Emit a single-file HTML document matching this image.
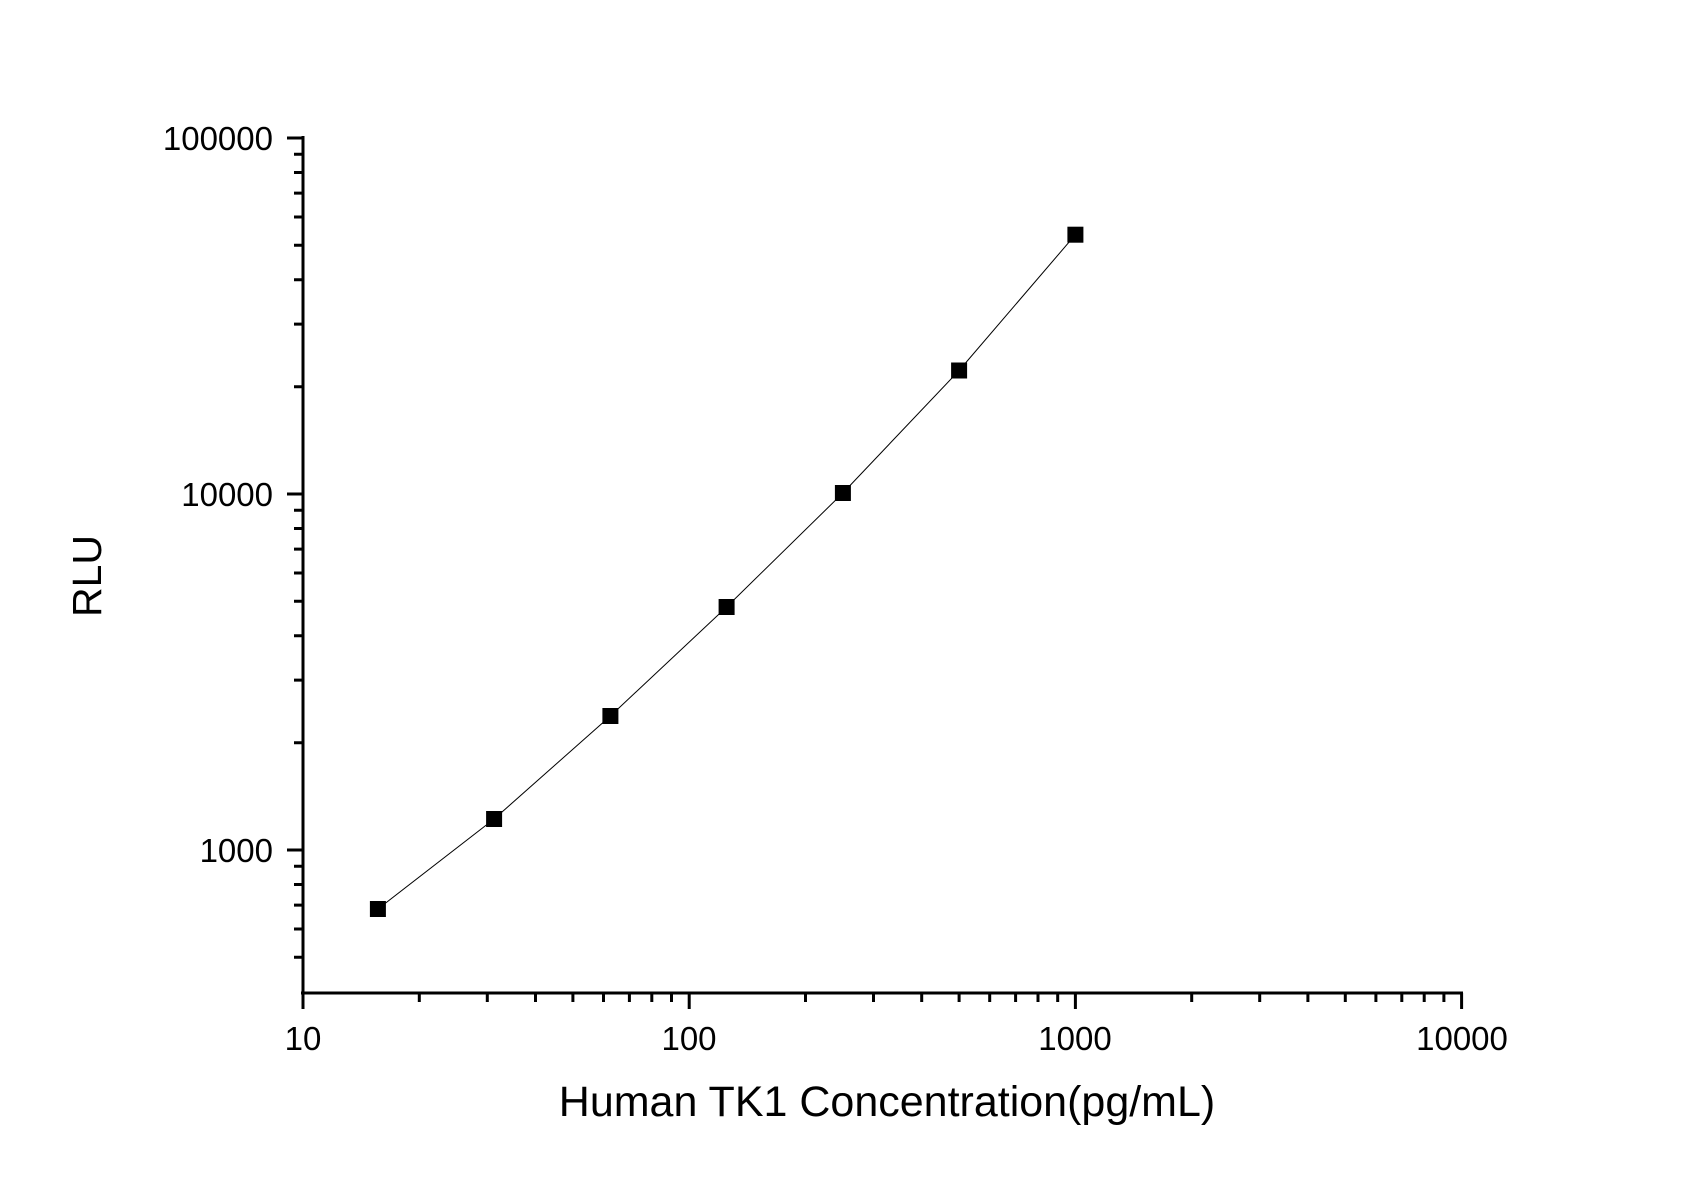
<!DOCTYPE html>
<html><head><style>body{margin:0;background:#fff}svg{display:block}</style></head><body>
<svg width="1695" height="1189" viewBox="0 0 1695 1189" xmlns="http://www.w3.org/2000/svg" font-family="Liberation Sans, Arial, sans-serif">
<path stroke="#000" stroke-width="3" fill="none" d="
M303,993V1009 M419.3,993V1002 M487.3,993V1002 M535.5,993V1002 M572.9,993V1002 M603.5,993V1002 M629.4,993V1002 M651.8,993V1002 M671.5,993V1002 M689.2,993V1009
M805.5,993V1002 M873.5,993V1002 M921.7,993V1002 M959.1,993V1002 M989.7,993V1002 M1015.6,993V1002 M1038,993V1002 M1057.7,993V1002 M1075.4,993V1009
M1191.7,993V1002 M1259.7,993V1002 M1307.9,993V1002 M1345.3,993V1002 M1375.9,993V1002 M1401.8,993V1002 M1424.2,993V1002 M1443.9,993V1002 M1461.6,993V1009
M294,957.2H303 M294,929H303 M294,905.1H303 M294,884.5H303 M294,866.3H303 M287,850H303
M294,742.8H303 M294,680.1H303 M294,635.7H303 M294,601.2H303 M294,573H303 M294,549.1H303 M294,528.5H303 M294,510.3H303 M287,494H303
M294,386.8H303 M294,324.1H303 M294,279.7H303 M294,245.2H303 M294,217H303 M294,193.1H303 M294,172.5H303 M294,154.3H303 M287,138H303
M303,136V995 M301,993H1463"/>
<polyline fill="none" stroke="#000" stroke-width="1" points="377.9,909 494.1,819 610.4,716 726.6,607 842.9,493 959.1,370.5 1075.4,234.7"/>
<g fill="#000">
<rect x="369.9" y="901" width="16" height="16"/>
<rect x="486.1" y="811" width="16" height="16"/>
<rect x="602.4" y="708" width="16" height="16"/>
<rect x="718.6" y="599" width="16" height="16"/>
<rect x="834.9" y="485" width="16" height="16"/>
<rect x="951.1" y="362.5" width="16" height="16"/>
<rect x="1067.4" y="226.7" width="16" height="16"/>
</g>
<g font-size="33" fill="#000">
<text x="273" y="150" text-anchor="end">100000</text>
<text x="273" y="506" text-anchor="end">10000</text>
<text x="273" y="862" text-anchor="end">1000</text>
<text x="303" y="1050" text-anchor="middle">10</text>
<text x="689" y="1050" text-anchor="middle">100</text>
<text x="1075" y="1050" text-anchor="middle">1000</text>
<text x="1462" y="1050" text-anchor="middle">10000</text>
</g>
<text x="887" y="1116" text-anchor="middle" font-size="43">Human TK1 Concentration(pg/mL)</text>
<text transform="translate(101,576) rotate(-90)" text-anchor="middle" font-size="41">RLU</text>
</svg>
</body></html>
